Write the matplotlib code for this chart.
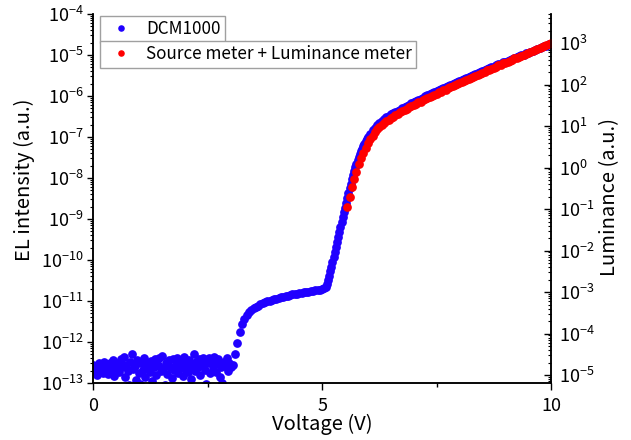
import numpy as np
import matplotlib
matplotlib.use("Agg")
import matplotlib.pyplot as plt
from matplotlib.ticker import MultipleLocator, LogLocator, NullFormatter

plt.rcParams['font.family'] = ['Noto Sans CJK JP', 'DejaVu Sans']
plt.rcParams['axes.unicode_minus'] = True

# DCM1000 EL intensity, log10 values
# noise floor, 0.00 .. 3.00 V
noise_log = [
    -12.55, -12.72, -12.62, -12.80, -12.50, -12.68, -12.58, -12.75, -12.48, -12.66,
    -12.60, -12.78, -12.52, -12.70, -12.45, -12.82, -12.56, -12.64, -12.50, -12.74,
    -12.42, -12.62, -12.36, -12.86, -12.55, -12.70, -13.05, -12.48, -12.30, -12.66,
    -12.58, -12.92, -12.44, -12.75, -13.02, -12.52, -12.68, -12.40, -12.85, -12.60,
    -12.50, -12.72, -12.46, -12.95, -12.62, -12.42, -12.80, -12.55, -12.38, -12.70,
    -12.33, -12.64, -13.04, -12.50, -12.78, -12.45, -12.60, -12.88, -12.42, -12.68,
    -12.55, -12.40, -12.76, -12.62, -12.48, -12.84, -12.36, -12.66, -12.52, -12.74,
    -12.44, -12.90, -12.58, -12.30, -12.70, -12.48, -12.62, -12.42, -12.80, -12.56,
    -12.38, -12.68, -13.02, -12.50, -12.40, -12.76, -12.44, -12.60, -12.36, -12.72,
    -12.52, -12.42, -12.86, -12.62, -13.00, -12.48, -12.58, -12.40, -12.70, -12.52,
    -12.62,
]
# turn-on and plateau, 3.05 .. 5.05 V
rise_log = [
    -12.55, -12.30, -12.02, -11.75, -11.56, -11.43, -11.34, -11.27, -11.22, -11.18,
    -11.14, -11.11, -11.08, -11.05, -11.03, -11.01, -10.99, -10.97, -10.95, -10.94,
    -10.92, -10.91, -10.89, -10.88, -10.87, -10.85, -10.84, -10.83, -10.82, -10.81,
    -10.80, -10.79, -10.78, -10.77, -10.76, -10.75, -10.74, -10.73, -10.72, -10.71,
    -10.69,
]
# steep part, 5.075 .. 5.975 V
steep_log = [
    -10.65, -10.58, -10.48, -10.38, -10.27, -10.16, -10.04, -9.92, -9.80, -9.68,
    -9.56, -9.44, -9.32, -9.20, -9.08, -8.96, -8.84, -8.72, -8.60, -8.48,
    -8.36, -8.25, -8.14, -8.03, -7.93, -7.83, -7.74, -7.65, -7.57, -7.49,
    -7.42, -7.35, -7.28, -7.22, -7.16, -7.10, -7.05,
]
# high voltage part, 6.00 .. 10.00 V
high_log = [
    -7.00, -6.92, -6.84, -6.77, -6.71, -6.65, -6.60, -6.55, -6.51, -6.48,
    -6.45, -6.42, -6.39, -6.36, -6.33, -6.30, -6.27, -6.24, -6.21, -6.18,
    -6.15, -6.12, -6.09, -6.07, -6.04, -6.01, -5.98, -5.96, -5.93, -5.90,
    -5.88, -5.85, -5.83, -5.80, -5.78, -5.75, -5.73, -5.70, -5.68, -5.65,
    -5.63, -5.61, -5.58, -5.56, -5.53, -5.51, -5.49, -5.46, -5.44, -5.41,
    -5.39, -5.37, -5.34, -5.32, -5.30, -5.28, -5.25, -5.23, -5.21, -5.18,
    -5.16, -5.14, -5.12, -5.10, -5.07, -5.05, -5.03, -5.01, -4.99, -4.96,
    -4.94, -4.92, -4.90, -4.88, -4.85, -4.83, -4.81, -4.79, -4.77, -4.74,
    -4.72,
]

# source meter + luminance meter, log10 luminance, 5.55 .. 10.00 V
lum_log = [
    -0.96, -0.70, -0.48, -0.27, -0.10, 0.08, 0.22, 0.36, 0.48, 0.59,
    0.68, 0.77, 0.85, 0.92, 0.98, 1.03, 1.07, 1.11, 1.15, 1.19,
    1.23, 1.26, 1.30, 1.33, 1.36, 1.39, 1.42, 1.45, 1.48, 1.51,
    1.54, 1.57, 1.59, 1.62, 1.65, 1.68, 1.70, 1.73, 1.76, 1.78,
    1.81, 1.83, 1.86, 1.88, 1.91, 1.93, 1.96, 1.98, 2.01, 2.04,
    2.06, 2.09, 2.11, 2.14, 2.16, 2.19, 2.21, 2.24, 2.26, 2.29,
    2.31, 2.34, 2.36, 2.38, 2.41, 2.43, 2.46, 2.48, 2.51, 2.53,
    2.55, 2.58, 2.60, 2.63, 2.65, 2.67, 2.70, 2.72, 2.74, 2.77,
    2.79, 2.81, 2.84, 2.86, 2.88, 2.91, 2.93, 2.95, 2.97, 2.99,
]

v_dcm = np.concatenate([
    np.linspace(0.0, 3.0, len(noise_log)),
    np.linspace(3.05, 5.05, len(rise_log)),
    np.linspace(5.075, 5.975, len(steep_log)),
    np.linspace(6.0, 10.0, len(high_log)),
])
el = 10.0 ** np.array(noise_log + rise_log + steep_log + high_log)

v_lum = np.linspace(5.55, 10.0, len(lum_log))
lum = 10.0 ** np.array(lum_log)

fig = plt.figure(figsize=(6.31, 4.40), dpi=100)
ax = fig.add_axes([0.1479, 0.1295, 0.7253, 0.8386])
ax2 = ax.twinx()

l1, = ax.plot(v_dcm, el, 'o', color='#2000ff', ms=6.3, mew=0, label='DCM1000')
l2, = ax2.plot(v_lum, lum, 'o', color='#ff0000', ms=6.3, mew=0,
               label='Source meter + Luminance meter')

ax.set_xlim(0, 10)
ax.set_yscale('log')
ax.set_ylim(1e-13, 1e-4)
ax2.set_yscale('log')
ax2.set_ylim(10 ** -5.193, 10 ** 3.70)

ax.xaxis.set_major_locator(MultipleLocator(5))
ax.xaxis.set_minor_locator(MultipleLocator(2.5))
for a in (ax, ax2):
    a.yaxis.set_major_locator(LogLocator(base=10, numticks=20))
    a.yaxis.set_minor_locator(LogLocator(base=10, subs=np.arange(2, 10), numticks=20))
    a.yaxis.set_minor_formatter(NullFormatter())
    a.spines['top'].set_visible(False)
    for s in a.spines.values():
        s.set_linewidth(1.1)
    a.xaxis.offsetText.set_visible(False)
    a.yaxis.offsetText.set_visible(False)

ax.tick_params(axis='x', which='major', direction='out', length=5, width=1, pad=5, labelsize=13)
ax.tick_params(axis='x', which='minor', direction='out', length=3, width=1)
ax.tick_params(axis='y', which='major', direction='out', length=4, width=1, pad=3, labelsize=13)
ax.tick_params(axis='y', which='minor', direction='out', length=2.5, width=0.8)
ax2.tick_params(axis='y', which='major', direction='in', length=5, width=1, pad=6, labelsize=13)
ax2.tick_params(axis='y', which='minor', direction='in', length=2.5, width=0.8)

ax.set_xlabel('Voltage (V)', fontsize=14.5, labelpad=-1)
ax.set_ylabel('EL intensity (a.u.)', fontsize=14.5)
ax2.set_ylabel('Luminance (a.u.)', fontsize=14.5)
ax.yaxis.set_label_coords(-0.127, 0.552)
ax2.yaxis.set_label_coords(1.105, 0.503)

leg_kw = dict(loc='upper left', fontsize=12.3, frameon=True, fancybox=False,
              framealpha=1, edgecolor='#a0a0a0', borderpad=0.25, borderaxespad=0,
              handlelength=1.95, handletextpad=0.49, markerscale=0.75)
leg1 = ax2.legend(handles=[l1], bbox_to_anchor=(100 / 631, 1 - 16 / 440),
                  bbox_transform=fig.transFigure, **leg_kw)
ax2.add_artist(leg1)
leg2 = ax2.legend(handles=[l2], bbox_to_anchor=(100 / 631, 1 - 41 / 440),
                  bbox_transform=fig.transFigure, **leg_kw)
for lg in (leg1, leg2):
    lg.get_frame().set_linewidth(1.0)

fig.savefig('out.png', dpi=100)
